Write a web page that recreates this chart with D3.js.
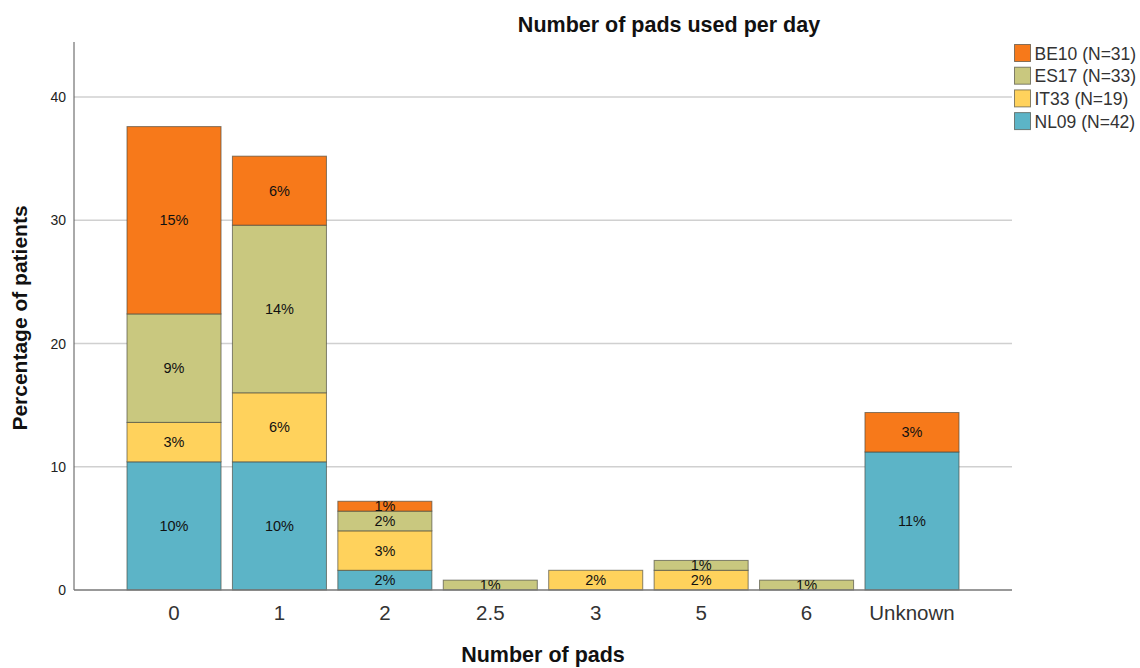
<!DOCTYPE html>
<html>
<head>
<meta charset="utf-8">
<script src="https://cdn.jsdelivr.net/npm/d3@7"></script>
<style>
  body { margin: 0; background: #fff; }
  svg text { font-family: "Liberation Sans", Arial, sans-serif; }
</style>
</head>
<body>
<svg id="chart" width="1140" height="668"></svg>
<script>
// categories on the x axis
var categories = ["0", "1", "2", "2.5", "3", "5", "6", "Unknown"];

// series, stacked bottom to top (percent of all 125 patients)
var seriesNames = ["NL09", "IT33", "ES17", "BE10"];
var seriesN = { "BE10": 31, "ES17": 33, "IT33": 19, "NL09": 42 };
var nl09 = [10.4, 10.4, 1.6, 0, 0, 0, 0, 11.2];
var it33 = [3.2, 5.6, 3.2, 0, 1.6, 1.6, 0, 0];
var es17 = [8.8, 13.6, 1.6, 0.8, 0, 0.8, 0.8, 0];
var be10 = [15.2, 5.6, 0.8, 0, 0, 0, 0, 3.2];
var yTicks = [0, 10, 20, 30, 40];

var colors = { "BE10": "#f7791a", "ES17": "#c9c87f", "IT33": "#ffd25c", "NL09": "#5cb4c7" };

var rows = categories.map(function(c, i) {
    return { cat: c, NL09: nl09[i], IT33: it33[i], ES17: es17[i], BE10: be10[i] };
});

var svg = d3.select("#chart");
var margin = { left: 74, right: 1012, top: 42, bottom: 590 };

var x = d3.scaleBand()
    .domain(categories)
    .range([121.3, 964.7])
    .paddingInner(0.108)
    .paddingOuter(0.054);

var y = d3.scaleLinear()
    .domain([0, 40])
    .range([margin.bottom, 97]);

// gridlines
svg.append("g")
  .selectAll("line")
  .data(yTicks.filter(function(d) { return d > 0; }))
  .enter().append("line")
    .attr("x1", margin.left)
    .attr("x2", margin.right)
    .attr("y1", y)
    .attr("y2", y)
    .attr("stroke", "#d0d0d0")
    .attr("stroke-width", 1.5);

// y tick labels
svg.append("g")
  .selectAll("text")
  .data(yTicks)
  .enter().append("text")
    .attr("x", 66)
    .attr("y", function(d) { return y(d) + 5; })
    .attr("text-anchor", "end")
    .attr("font-size", 14)
    .attr("fill", "#222")
    .text(function(d) { return d; });

var stack = d3.stack().keys(seriesNames);
var layers = stack(rows);

var barG = svg.append("g");
layers.forEach(function(layer) {
    var key = layer.key;
    layer.forEach(function(d, i) {
        if (d[1] - d[0] <= 0) return;
        var cat = categories[i];
        barG.append("rect")
            .attr("x", x(cat))
            .attr("width", x.bandwidth())
            .attr("y", y(d[1]))
            .attr("height", y(d[0]) - y(d[1]))
            .attr("fill", colors[key])
            .attr("stroke", "rgba(70,70,60,0.65)")
            .attr("stroke-width", 1);
        barG.append("text")
            .attr("x", x(cat) + x.bandwidth() / 2)
            .attr("y", (y(d[0]) + y(d[1])) / 2 + 5)
            .attr("text-anchor", "middle")
            .attr("font-size", 14.5)
            .attr("fill", "#111")
            .text(Math.round(d[1] - d[0]) + "%");
    });
});

// axes lines
svg.append("line")
    .attr("x1", margin.left).attr("x2", margin.left)
    .attr("y1", margin.top).attr("y2", margin.bottom)
    .attr("stroke", "#555").attr("stroke-width", 1);
svg.append("line")
    .attr("x1", margin.left).attr("x2", margin.right)
    .attr("y1", margin.bottom).attr("y2", margin.bottom)
    .attr("stroke", "#777").attr("stroke-width", 1.5);

// x tick labels
svg.append("g")
  .selectAll("text")
  .data(categories)
  .enter().append("text")
    .attr("x", function(d) { return x(d) + x.bandwidth() / 2; })
    .attr("y", 620)
    .attr("text-anchor", "middle")
    .attr("font-size", 20.5)
    .attr("fill", "#333")
    .text(function(d) { return d; });

// titles
svg.append("text")
    .attr("x", 669).attr("y", 32)
    .attr("text-anchor", "middle")
    .attr("font-size", 21.5).attr("font-weight", "bold")
    .attr("fill", "#111")
    .text("Number of pads used per day");

svg.append("text")
    .attr("x", 543).attr("y", 662)
    .attr("text-anchor", "middle")
    .attr("font-size", 21.5).attr("font-weight", "bold")
    .attr("fill", "#111")
    .text("Number of pads");

svg.append("text")
    .attr("transform", "translate(27,318) rotate(-90)")
    .attr("text-anchor", "middle")
    .attr("font-size", 21).attr("font-weight", "bold")
    .attr("fill", "#111")
    .text("Percentage of patients");

// legend
var legendKeys = ["BE10", "ES17", "IT33", "NL09"];
var legend = svg.append("g").attr("transform", "translate(1014.5,44.5)");
legendKeys.forEach(function(k, i) {
    var g = legend.append("g").attr("transform", "translate(0," + (i * 22.7) + ")");
    g.append("rect")
        .attr("width", 16).attr("height", 17)
        .attr("fill", colors[k])
        .attr("stroke", "rgba(70,70,60,0.65)");
    g.append("text")
        .attr("x", 20).attr("y", 15)
        .attr("font-size", 17.5)
        .attr("fill", "#333")
        .text(k + " (N=" + seriesN[k] + ")");
});
</script>
</body>
</html>
